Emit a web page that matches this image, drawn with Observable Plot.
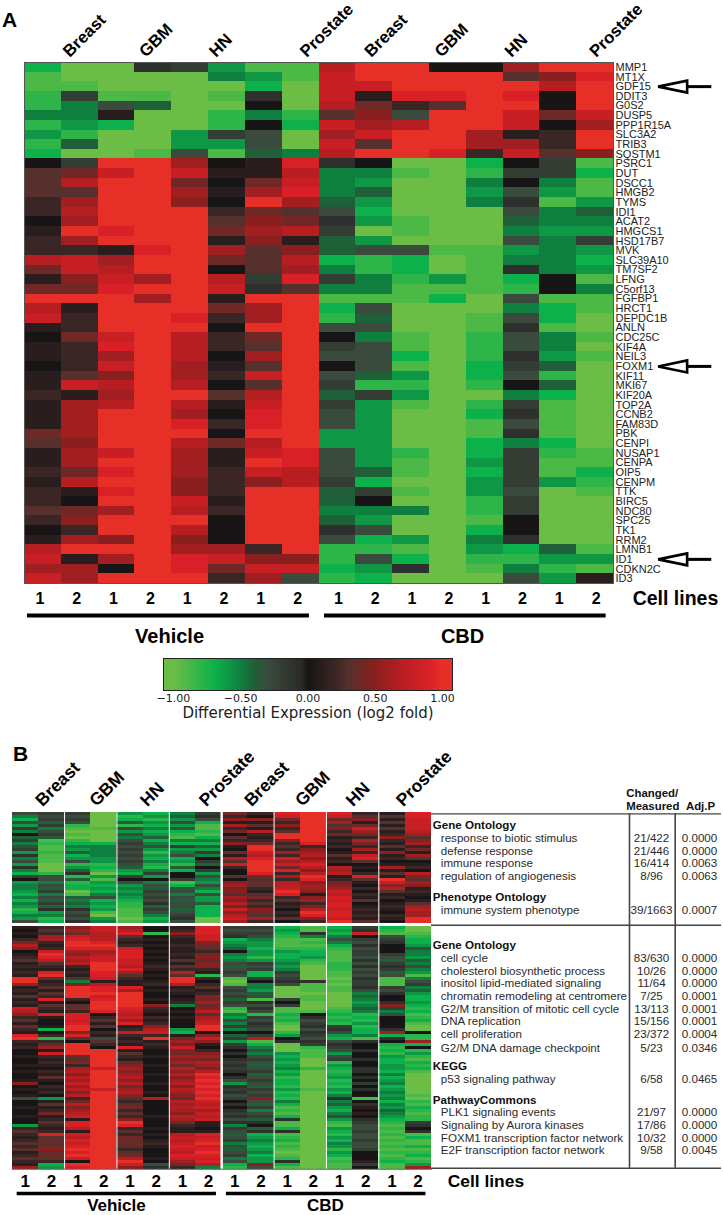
<!DOCTYPE html>
<html><head><meta charset="utf-8">
<script src="https://cdn.jsdelivr.net/npm/d3@7"></script>
<script src="https://cdn.jsdelivr.net/npm/@observablehq/plot@0.6"></script>
<style>
html,body{margin:0;padding:0;background:#fff}
#page{position:relative;width:723px;height:1215px;overflow:hidden;font-family:"Liberation Sans",Arial,sans-serif}
#page svg{position:absolute;overflow:visible;background:transparent}
.letter{position:absolute;font-weight:700;color:#000;line-height:1}
</style></head><body><div id="page"></div>
<script>
// ---------- data (values are log2 fold x 10) ----------
const genes=["MMP1","MT1X","GDF15","DDIT3","G0S2","DUSP5","PPP1R15A","SLC3A2","TRIB3","SQSTM1","PSRC1","DUT","DSCC1","HMGB2","TYMS","IDI1","ACAT2","HMGCS1","HSD17B7","MVK","SLC39A10","TM7SF2","LFNG","C5orf13","FGFBP1","HRCT1","DEPDC1B","ANLN","CDC25C","KIF4A","NEIL3","FOXM1","KIF11","MKI67","KIF20A","TOP2A","CCNB2","FAM83D","PBK","CENPI","NUSAP1","CENPA","OIP5","CENPM","TTK","BIRC5","NDC80","SPC25","TK1","RRM2","LMNB1","ID1","CDKN2C","ID3"];
const arrowGenes=["GDF15","FOXM1","ID1"];
const tissues=["Breast","GBM","HN","Prostate","Breast","GBM","HN","Prostate"];
const cellLines=["1","2","1","2","1","2","1","2","1","2","1","2","1","2","1","2"];
const treatments=["Vehicle","CBD"];
const legendTicks=[-1,-0.5,0,0.5,1];
const panelA=[
[-7,-10,-10,-1,-2,-6,-9,-9,7,10,10,0,0,6,10,10],
[-9,-10,-10,-10,-10,-5,-6,-9,8,10,10,10,10,3,5,9],
[-9,-9,-10,-10,-10,-10,-7,-10,8,8,10,10,10,10,7,10],
[-8,-2,-9,-9,-10,-9,-1,-10,8,1,9,9,10,9,0,10],
[-8,-5,-3,-4,-10,-10,0,-10,7,4,2,3,10,10,0,10],
[-5,-5,1,-10,-10,-8,-5,-8,3,5,-3,10,10,8,4,8],
[-8,-6,-7,-10,-10,-8,0,-7,8,6,7,10,10,8,0,6],
[-6,-8,-10,-10,-6,-2,-3,-10,6,8,10,10,6,1,2,10],
[-8,-4,-10,-10,-6,-6,-3,-10,8,3,10,10,6,6,2,10],
[-7,-10,-10,-9,-3,-9,-4,-5,7,10,10,9,2,8,3,5],
[0,-2,10,10,6,0,1,9,-1,0,-10,-10,-7,0,-2,-9],
[3,4,8,10,8,1,1,7,-5,-5,-9,-10,-8,-2,-2,-7],
[3,7,10,10,4,0,4,8,-5,-6,-10,-10,-5,0,-5,-9],
[3,3,10,10,6,1,6,9,-5,-4,-10,-10,-6,-3,-6,-9],
[2,6,10,10,5,0,10,6,-4,-6,-10,-10,-5,-1,-9,-6],
[2,7,10,10,10,2,4,3,-3,-7,-10,-10,-10,-3,-5,-4],
[0,6,10,10,10,3,5,4,-1,-6,-9,-10,-10,-4,-5,-5],
[1,10,9,10,10,4,6,7,-2,-10,-9,-10,-10,-5,-6,-6],
[2,6,10,10,10,1,5,1,-4,-6,-10,-10,-10,-3,-5,-2],
[2,2,1,9,10,6,3,5,-4,-3,-3,-9,-9,-6,-5,-6],
[7,8,6,10,10,4,3,7,-7,-8,-7,-10,-9,-5,-5,-7],
[4,8,7,10,10,0,3,6,-5,-8,-7,-10,-9,-1,-5,-6],
[1,5,8,6,10,7,-2,9,-2,-5,-8,-6,-9,-7,0,-9],
[4,4,9,10,10,8,-1,3,-5,-5,-9,-9,-9,-8,0,-5],
[10,10,10,6,10,1,10,10,-9,-9,-9,-7,-10,-3,-9,-9],
[7,1,10,10,10,4,6,10,-7,-3,-10,-10,-10,-5,-7,-9],
[8,2,10,10,9,2,6,10,-8,-4,-10,-10,-9,-3,-7,-10],
[1,2,10,10,10,0,10,10,-3,-3,-10,-10,-9,-1,-9,-10],
[0,4,8,10,7,2,4,10,0,-5,-9,-10,-8,-3,-5,-9],
[1,2,9,10,7,2,3,10,-2,-3,-9,-10,-8,-3,-5,-10],
[1,2,6,10,7,0,6,10,-3,-3,-7,-10,-8,-1,-6,-9],
[0,2,8,10,6,1,3,10,0,-3,-9,-10,-7,-2,-4,-10],
[1,3,5,10,6,2,8,10,-3,-4,-6,-10,-7,-3,-8,-10],
[1,8,7,10,7,0,3,10,-2,-8,-8,-10,-8,0,-4,-10],
[2,1,6,10,10,3,7,10,-4,-2,-6,-10,-10,-5,-7,-10],
[1,6,7,10,7,1,8,10,-2,-6,-9,-10,-8,-2,-9,-10],
[1,6,10,10,6,0,9,10,-3,-6,-10,-10,-7,-1,-9,-10],
[1,6,10,10,9,2,9,10,-3,-6,-10,-10,-9,-3,-9,-10],
[4,6,10,10,10,0,10,10,-6,-6,-10,-10,-9,-1,-9,-10],
[3,5,10,10,7,4,7,10,-6,-6,-10,-10,-7,-5,-7,-10],
[1,6,8,10,6,1,8,9,-3,-6,-8,-10,-7,-2,-8,-9],
[1,6,10,10,6,1,10,9,-3,-6,-9,-10,-6,-2,-9,-9],
[2,4,9,10,6,2,8,7,-3,-4,-9,-10,-7,-2,-9,-7],
[1,7,10,10,5,2,5,7,-2,-7,-10,-10,-6,-2,-6,-8],
[2,1,9,10,5,2,10,10,-4,-2,-9,-10,-6,-3,-10,-9],
[2,0,10,10,8,1,10,10,-4,0,-10,-10,-8,-2,-10,-10],
[3,4,6,10,7,2,10,10,-5,-5,-5,-10,-8,-2,-10,-10],
[2,5,10,10,10,0,10,10,-4,-6,-10,-10,-9,0,-10,-10],
[0,2,10,10,7,0,10,10,-1,-3,-10,-10,-7,0,-10,-10],
[1,6,5,10,5,0,10,10,-3,-7,-6,-10,-5,-1,-10,-10],
[7,10,10,10,6,6,2,10,-8,-8,-9,-10,-6,-7,-4,-9],
[8,1,6,10,9,8,5,5,-8,-3,-7,-10,-8,-8,-6,-6],
[6,6,0,10,9,4,8,8,-7,-6,-1,-10,-9,-5,-8,-9],
[8,6,10,10,10,2,6,-3,-8,-7,-10,-10,-10,-3,-6,1]];
const panelBTop=[
[-3,-2,-2,-10,-6,-7,-5,-2,4,2,9,10,9,2,1,9],
[-5,-3,-3,-10,-8,-6,-4,-1,2,0,8,10,8,3,3,9],
[-7,-2,-2,-10,-7,-8,-6,-3,5,5,4,10,4,5,1,8],
[-3,-4,-3,-10,-4,-6,-3,-7,1,1,2,10,6,1,3,8],
[-6,-2,-8,-10,-8,-7,-6,-9,6,3,5,10,3,4,1,8],
[-2,-5,-9,-9,-3,-5,-4,-9,2,1,2,10,5,8,3,8],
[-5,-3,-10,-10,-6,-7,-7,-8,4,7,3,10,2,6,1,7],
[0,-2,-9,-10,-3,-6,-8,-9,0,2,10,10,4,4,2,6],
[-4,-4,-10,-10,-5,-4,-9,-7,3,1,10,10,1,2,5,3],
[-2,-9,-8,-10,-3,-7,-5,-5,2,2,5,10,2,7,2,5],
[-5,-8,-7,-7,-2,-5,-7,-7,5,4,2,9,1,4,1,6],
[-3,-9,-5,-5,-3,-3,-2,-4,1,10,3,2,2,2,3,2],
[-2,-9,-6,-5,-2,-6,-6,-6,0,10,2,5,0,6,1,4],
[-6,-8,-4,-5,-3,-8,-5,-2,4,8,6,6,1,2,5,1],
[-1,-9,-7,-5,-2,-6,-3,-5,1,7,2,7,3,8,1,6],
[-5,-9,-6,-6,-3,-7,-7,0,7,9,8,5,1,9,2,3],
[-3,-9,-3,-6,-2,-5,-6,-2,3,10,6,7,2,3,0,0],
[-6,-10,-8,-8,-3,-7,-8,-4,8,10,8,9,0,0,1,1],
[-1,-10,-6,-7,-4,-8,-4,0,2,10,4,7,7,1,6,2],
[-5,-10,-4,-8,-6,-5,-7,-2,0,10,9,5,6,0,1,0],
[-7,-8,-1,-10,-7,-2,0,-6,0,9,2,7,7,2,3,7],
[-2,-3,-8,-6,-2,-6,0,-3,3,4,6,10,1,9,1,5],
[0,-3,-4,-9,0,0,-2,-5,0,3,2,9,2,3,10,3],
[-6,-5,-8,-6,-3,-5,-9,-6,5,4,7,5,4,1,8,6],
[-5,-3,-7,-7,-6,-3,-7,-3,6,3,7,6,5,0,5,5],
[-5,-4,-7,-6,-5,-4,-4,-5,4,2,8,6,6,2,7,1],
[-6,-2,-10,-7,-6,-2,-3,-7,5,1,10,5,8,0,3,2],
[-7,-5,-9,-5,-5,-3,-5,-3,3,3,9,1,7,2,1,1],
[-5,-3,-4,-3,-6,-2,-3,-6,6,4,2,5,9,1,2,0],
[-7,-4,-5,-7,-7,-3,-4,-6,5,2,3,6,8,3,0,1],
[-5,-2,-4,-6,-8,-1,-3,-4,7,3,1,2,9,0,1,3],
[-6,-4,-5,-7,-8,-4,-3,-7,4,2,2,4,9,1,2,6],
[-8,-1,-1,-6,-9,-2,-4,-7,8,5,0,7,8,2,1,7],
[-7,-6,-3,-9,-9,-3,-3,-7,5,4,2,10,9,1,0,6],
[-5,-5,-2,-10,-9,-5,-2,-7,7,3,1,9,9,2,2,6],
[-6,-8,-3,-6,-10,-7,-1,-10,8,6,3,5,8,1,1,10],
[-3,-7,-1,-5,-9,-6,-3,-10,6,2,0,2,10,3,0,10]];
const panelBBottom=[
[1,2,5,8,6,0,1,9,-2,-2,-7,-9,-7,-2,-7,-10],
[0,3,6,8,7,0,2,9,-3,-3,-6,-9,-6,-1,-8,-10],
[1,2,4,7,9,-8,5,9,-2,-2,-7,-1,-7,8,-9,-9],
[0,6,8,7,3,0,2,8,-1,-3,-8,-5,-5,0,-3,-8],
[2,6,9,7,2,1,1,8,-7,-5,-9,-9,-3,-2,-2,-7],
[4,2,10,9,1,0,1,5,-6,-6,-9,-8,-5,-3,-1,-7],
[7,1,10,10,2,1,2,4,-5,-6,-9,-9,-7,-1,0,-6],
[5,2,9,9,8,0,1,3,-4,-7,-8,-8,-8,-3,0,-3],
[0,8,6,6,9,1,1,2,0,-6,-6,-7,-9,-2,0,-5],
[1,10,5,7,9,0,2,4,-5,-6,-7,-7,-9,-2,-2,-5],
[2,9,7,8,9,1,1,5,-6,-8,-7,-6,-9,-3,-3,-6],
[3,7,6,8,8,0,3,3,-5,-6,-6,-8,-9,-1,-4,-4],
[1,3,7,10,8,1,1,5,-3,-2,-5,-9,-8,-3,-2,-5],
[2,2,2,10,7,2,3,5,-4,-3,-6,-10,-8,-1,-1,-3],
[1,1,1,10,9,1,2,2,-3,-2,-5,-10,-8,-3,-2,-5],
[2,9,2,9,6,0,7,1,-2,-7,-2,-10,-9,-2,-4,-6],
[1,10,1,9,3,1,3,-8,-3,-7,-3,-10,-9,-3,-3,-9],
[10,3,3,8,2,0,10,2,-9,-2,-2,-10,-10,-1,-9,-5],
[10,1,-5,1,1,1,10,0,-10,0,-1,-1,-9,-2,-9,-3],
[6,2,4,7,1,2,7,2,-9,-5,-3,-9,-10,-2,-9,-2],
[1,3,10,9,9,0,1,3,-3,-5,-10,-9,-9,-1,-2,-5],
[2,1,10,9,6,1,2,1,-2,-6,-10,-9,-9,-3,-3,-4],
[1,3,10,10,10,0,1,2,-3,-4,-10,-10,-10,-5,-1,-6],
[3,2,10,8,10,0,0,5,-2,-3,-10,-9,-10,-4,0,-7],
[1,9,2,9,10,1,1,4,-4,-9,-2,-9,-10,-5,0,-7],
[2,1,0,10,10,0,2,6,-2,-1,0,-10,-10,-6,-1,-6],
[1,3,3,10,10,5,-5,4,-3,-3,-2,-10,-10,-5,5,-7],
[8,2,4,10,9,2,0,5,-8,-1,-9,-10,-9,-4,-2,-8],
[7,1,2,9,8,1,1,7,-9,-3,-9,-9,-8,-5,-5,-7],
[5,9,9,0,7,0,0,3,-5,-8,-7,0,-7,-8,-3,-9],
[2,1,9,2,8,2,1,6,-6,-2,-8,-1,-8,-7,0,-8],
[3,0,8,3,6,1,0,7,-3,-3,-7,-3,-7,-8,0,-7],
[1,0,9,1,9,2,0,8,-5,-1,-9,-2,-8,-6,0,-9],
[4,1,10,3,1,5,0,10,-2,-2,-10,-1,-2,-8,0,-10],
[2,-7,10,0,2,7,-6,10,-5,-3,-10,-3,-1,-7,-1,-10],
[1,0,5,2,8,8,-7,0,0,0,-8,-1,-3,-7,6,0],
[9,2,9,1,2,2,1,5,-4,-2,-6,-2,-6,-5,-7,-8],
[10,-8,3,-3,1,10,4,8,-2,7,0,-3,-7,-9,-1,-8],
[2,2,0,3,2,1,6,5,-6,-9,-1,-1,-3,-1,0,6],
[1,3,10,2,1,2,4,1,-2,-7,-10,-2,-1,0,-7,-7],
[2,6,10,0,9,1,8,0,-1,-5,-10,-8,-2,0,-8,0],
[0,1,10,10,1,0,5,2,0,-3,-10,-9,-3,-1,-7,-8],
[0,8,10,10,3,0,4,5,-1,-5,-6,-9,-6,0,-8,-6],
[1,2,4,10,2,1,6,6,0,-3,-7,-9,-3,0,-6,-8],
[0,1,3,10,1,0,5,4,-1,-2,-6,-10,-2,-1,-7,-9],
[0,2,5,10,3,0,6,7,-2,-3,-7,-10,-8,0,-7,-7],
[1,1,2,10,5,1,4,6,-1,-4,-6,-10,-6,0,-6,-8],
[0,0,6,8,6,0,7,4,-2,-3,-5,-8,-7,-1,-6,-7],
[1,2,7,10,5,0,5,7,-1,-2,-7,-10,-8,-1,-7,-9],
[0,1,5,10,6,1,7,10,0,-4,-6,-10,-7,0,-5,-10],
[0,3,7,10,7,0,5,9,-1,-3,-8,-10,-6,-1,-7,-10],
[1,1,6,10,5,0,6,10,-3,-2,-7,-10,-8,0,-6,-10],
[5,0,8,10,7,1,7,9,-6,-3,-7,-10,-7,-2,-5,-10],
[0,2,6,10,4,0,5,10,-1,-4,-8,-10,-8,0,-7,-10],
[1,1,7,8,6,0,7,9,-2,-2,-6,-9,-6,-1,-6,-10],
[0,2,5,10,7,1,6,10,-1,-3,-8,-10,-7,0,-5,-10],
[1,0,7,10,5,0,5,9,-3,-2,-7,-10,-5,0,-6,-9],
[-3,-6,2,10,3,7,3,10,-2,5,-8,-10,-1,-9,-5,-10],
[0,1,4,10,2,0,7,8,0,-3,-5,-10,-5,0,-7,-8],
[0,3,7,10,3,0,6,7,-1,-4,-7,-10,-4,-1,-5,-9],
[1,1,5,10,4,0,7,8,0,-2,-9,-10,-6,1,-6,-7],
[0,2,6,10,2,0,6,6,-1,-5,-8,-10,-7,0,-4,-8],
[0,4,7,10,3,0,5,8,-2,-3,-9,-10,-5,1,-5,-9],
[1,1,8,10,2,1,7,7,-1,-2,-7,-10,-3,0,-6,-8],
[0,2,1,10,5,0,6,8,-3,-4,-1,-10,-6,-1,-7,-8],
[0,3,9,10,10,0,4,1,-1,-1,-9,-10,-8,-2,-8,-2],
[-6,2,9,10,9,0,2,1,-5,0,-9,-10,-9,-3,-9,-1],
[2,1,7,10,2,1,1,0,-2,-4,-7,-10,-6,-3,-8,0],
[3,2,1,10,3,0,1,1,-3,-1,-1,-10,-7,-2,-9,-1],
[2,9,8,10,2,1,7,9,-4,-7,-9,-10,-8,-3,-8,-9],
[1,3,7,10,4,0,8,8,-3,-6,-8,-10,-6,-3,-9,-7],
[2,4,9,10,3,1,7,9,-2,-5,-7,-10,-7,-2,-8,-9],
[3,3,8,10,4,2,8,10,-5,-6,-9,-10,-5,-3,-9,-9],
[2,4,9,10,3,1,9,8,-3,-7,-8,-10,-6,-3,-8,-7],
[3,5,10,10,2,0,8,9,-4,-6,-9,-10,-8,-2,-9,-9],
[1,3,9,10,3,0,7,10,-3,-5,-10,-10,-6,0,-8,-8],
[2,4,10,10,4,0,9,9,-2,-7,-9,-10,-7,0,-9,-7],
[3,3,8,10,7,1,8,8,-5,-6,-8,-10,-9,0,-8,-9],
[2,2,0,10,10,0,6,9,-3,-6,-1,-10,-8,1,-7,-8],
[1,-7,10,10,8,-3,4,7,-7,5,-7,-10,-9,-2,-9,-6],
[6,-6,9,10,5,-1,2,-5,-8,-3,-9,-10,-9,0,-9,6]];
// enrichment table: row is the line number in the table
const enrichmentHeads=[["Gene Ontology",0],["Phenotype Ontology",5.67],["Gene Ontology",9.5],["KEGG",19.05],["PathwayCommons",21.7]];
const enrichmentTerms=[
["response to biotic stimulus","21/422","0.0000",1],["defense response","21/446","0.0000",2],["immune response","16/414","0.0063",3],["regulation of angiogenesis","8/96","0.0063",4],
["immune system phenotype","39/1663","0.0007",6.67],
["cell cycle","83/630","0.0000",10.5],["cholesterol biosynthetic process","10/26","0.0000",11.5],["inositol lipid-mediated signaling","11/64","0.0000",12.5],["chromatin remodeling at centromere","7/25","0.0001",13.5],["G2/M transition of mitotic cell cycle","13/113","0.0001",14.5],["DNA replication","15/156","0.0001",15.5],["cell proliferation","23/372","0.0004",16.5],["G2/M DNA damage checkpoint","5/23","0.0346",17.6],
["p53 signaling pathway","6/58","0.0465",20.05],
["PLK1 signaling events","21/97","0.0000",22.7],["Signaling by Aurora kinases","17/86","0.0000",23.7],["FOXM1 transcription factor network","10/32","0.0000",24.7],["E2F transcription factor network","9/58","0.0045",25.7]];

// ---------- scale and helpers ----------
const colorOpts={type:"linear",clamp:true,
  domain:[-1,-0.7,-0.5,-0.4,-0.3,-0.05,0,0.2,0.3,0.5,0.7,0.9,1],
  range:["#6cbd45","#0db14b","#0f7f3f","#1f6038","#3a4a3c","#2a2a28","#171515","#3a2624","#55302d","#8a1f1f","#b71e22","#d92027","#e63027"]};
const style={fontFamily:'"Liberation Sans",Arial,sans-serif',background:"transparent",color:"#000"};
const page=document.getElementById("page");
const place=(svg,left,top)=>{svg.style.left=left+"px";svg.style.top=top+"px";page.appendChild(svg);};
const letter=(t,left,top,size)=>{const d=document.createElement("div");d.className="letter";d.textContent=t;d.style.cssText=`left:${left}px;top:${top}px;font-size:${size}px`;page.appendChild(d);};
const cellsOf=(rows,keys)=>rows.flatMap((r,i)=>r.map((v,col)=>({row:keys?keys[i]:i,col,v})));
const heatBars=(rows,keys)=>Plot.barX(cellsOf(rows,keys),{x1:"col",x2:d=>d.col+1,y:"row",fill:d=>d.v/10,shapeRendering:"crispEdges"});
const cols=cellLines.map((label,col)=>({label,col,mid:col+0.5}));

// ---------- Panel A ----------
const headerAtA=[1.0,3.07,4.97,7.44,9.19,11.1,13.0,15.3];
const leftTriangle={draw(c){c.moveTo(-15,0);c.lineTo(14,-6);c.lineTo(14,6);c.closePath();}};
place(Plot.plot({width:723,height:583,marginLeft:24,marginRight:110,marginTop:62,marginBottom:0,style,
  color:colorOpts,x:{domain:[0,16],axis:null},y:{domain:genes,padding:0,round:false},
  marks:[
    heatBars(panelA,genes),
    Plot.frame({stroke:"#555",strokeWidth:1}),
    Plot.axisY({anchor:"right",tickSize:0,tickPadding:2,label:null,fontSize:11,fill:"#222"}),
    Plot.text(tissues,{x:(d,i)=>headerAtA[i],text:d=>d,frameAnchor:"top",dy:-13,rotate:-45,textAnchor:"start",fontSize:16.8,fontWeight:"bold"}),
    Plot.ruleY(arrowGenes,{y:d=>d,x1:()=>17.99,x2:()=>18.67,stroke:"#000",strokeWidth:3}),
    Plot.dot(arrowGenes,{y:d=>d,x:()=>17.62,symbol:leftTriangle,stroke:"#000",strokeWidth:2.6,fill:"#fff"})
  ]}),0,0);

// annotation strip under panel A
const stripDomain=["cells","bar","treatment"];
const vehicleA={name:treatments[0],from:0.08,to:7.74,mid:3.94}, cbdA={name:treatments[1],from:8.15,to:15.8,mid:11.9};
place(Plot.plot({width:723,height:60,marginLeft:24,marginRight:110,marginTop:7,marginBottom:14,style,
  x:{domain:[0,16],axis:null},y:{type:"point",domain:stripDomain,padding:0,axis:null},
  marks:[
    Plot.text(cols.slice(0,8),{x:"mid",y:()=>"cells",text:"label",dx:-3,fontSize:16,fontWeight:"bold"}),
    Plot.text(cols.slice(8),{x:"mid",y:()=>"cells",text:"label",dx:1,fontSize:16,fontWeight:"bold"}),
    Plot.text(["Cell lines"],{x:()=>16.52,y:()=>"cells",text:d=>d,textAnchor:"start",fontSize:19.5,fontWeight:"bold"}),
    Plot.ruleY([vehicleA,cbdA],{y:()=>"bar",x1:"from",x2:"to",stroke:"#000",strokeWidth:4,dy:-2}),
    Plot.text([vehicleA,cbdA],{x:"mid",y:()=>"treatment",text:"name",fontSize:20,fontWeight:"bold"})
  ]}),0,590);

// colour legend
const ramp=d3.range(-1.074,1.074,0.01);
place(Plot.plot({width:423,height:75,marginLeft:63,marginRight:71,marginTop:8,marginBottom:35,
  style:{...style,fontFamily:'"DejaVu Sans",sans-serif',color:"#222"},color:colorOpts,
  x:{domain:[-1.074,1.074],axis:null},
  marks:[
    Plot.axisX({ticks:legendTicks,tickFormat:d3.format(".2f"),tickSize:0,tickPadding:4,fontSize:11,label:null}),
    Plot.text(["Differential Expression (log2 fold)"],{text:d=>d,frameAnchor:"bottom",dy:27,fontSize:15}),
    Plot.barX(ramp,{x1:d=>d,x2:d=>d+0.011,fill:d=>d,shapeRendering:"crispEdges"}),
    Plot.frame({stroke:"#222",strokeWidth:1})
  ]}),100,650);

letter("A",2,9,21);
letter("B",13,743,21);

// ---------- Panel B ----------
const pairEdges=[2,4,6,10,12,14];
const blockMarks=(rows)=>[
  heatBars(rows),
  Plot.ruleX(pairEdges,{stroke:"#fff",strokeWidth:1}),
  Plot.ruleX([8],{stroke:"#fff",strokeWidth:2.4})
];
const headerAtB=[0.82,2.88,4.82,7.07,8.8,10.74,12.68,14.6];
place(Plot.plot({width:431,height:923.3-740,marginLeft:11.7,marginRight:0.3,marginTop:72,marginBottom:0,style,
  color:colorOpts,x:{domain:[0,16],axis:null},y:{domain:d3.range(panelBTop.length),padding:0,round:false,axis:null},
  marks:[...blockMarks(panelBTop),
    Plot.text(tissues,{x:(d,i)=>headerAtB[i],text:d=>d,frameAnchor:"top",dy:-14,rotate:-45,textAnchor:"start",fontSize:17.5,fontWeight:"bold"})
  ]}),0,740);
place(Plot.plot({width:431,height:243.3,marginLeft:11.7,marginRight:0.3,marginTop:0,marginBottom:0.5,style,
  color:colorOpts,x:{domain:[0,16],axis:null},y:{domain:d3.range(panelBBottom.length),padding:0,round:false,axis:null},
  marks:[...blockMarks(panelBBottom),Plot.frame({anchor:"bottom",stroke:"#666"})]}),0,925.7);

// annotation strip under panel B
const vehicleB={name:treatments[0],from:0.19,to:7.8,mid:3.98}, cbdB={name:treatments[1],from:8.18,to:15.8,mid:11.96};
place(Plot.plot({width:723,height:42,marginLeft:11.7,marginRight:292.3,marginTop:7,marginBottom:10,style,
  x:{domain:[0,16],axis:null},y:{type:"point",domain:stripDomain,padding:0,axis:null},
  marks:[
    Plot.text(cols,{x:"mid",y:()=>"cells",text:"label",fontSize:17,fontWeight:"bold"}),
    Plot.text(["Cell lines"],{x:()=>16.63,y:()=>"cells",text:d=>d,textAnchor:"start",fontSize:17.4,fontWeight:"bold"}),
    Plot.ruleY([vehicleB,cbdB],{y:()=>"bar",x1:"from",x2:"to",stroke:"#000",strokeWidth:3.5}),
    Plot.text([vehicleB,cbdB],{x:"mid",y:()=>"treatment",text:"name",fontSize:17,fontWeight:"bold"})
  ]}),0,1173);

// enrichment table
const tableFont=11.6, ink="#2a2a2a";
place(Plot.plot({width:292,height:400,margin:0,style,
  x:{domain:[0,292],axis:null},y:{domain:[-40/12.65,360/12.65],reverse:true,axis:null},
  marks:[
    Plot.ruleY([-0.92,7.88,27.09],{x1:()=>0,x2:()=>290,stroke:"#444",strokeWidth:1.4}),
    Plot.ruleX([198,243.7],{y1:()=>-0.92,y2:()=>27.09,stroke:"#444",strokeWidth:1.6}),
    Plot.text(enrichmentHeads,{x:()=>1.3,y:d=>d[1],text:d=>d[0],textAnchor:"start",fontSize:tableFont,fontWeight:"bold",fill:"#111"}),
    Plot.text(enrichmentTerms,{x:()=>9.3,y:d=>d[3],text:d=>d[0],textAnchor:"start",fontSize:tableFont,fill:ink}),
    Plot.text(enrichmentTerms,{x:()=>220,y:d=>d[3],text:d=>d[1],fontSize:tableFont,fill:ink}),
    Plot.text(enrichmentTerms,{x:()=>268,y:d=>d[3],text:d=>d[2],fontSize:tableFont,fill:ink}),
    Plot.text(["Changed/"],{x:()=>194.7,y:()=>-2.56,text:d=>d,textAnchor:"start",fontSize:11.4,fontWeight:"bold",fill:"#111"}),
    Plot.text(["Measured"],{x:()=>194.7,y:()=>-1.5,text:d=>d,textAnchor:"start",fontSize:11.4,fontWeight:"bold",fill:"#111"}),
    Plot.text(["Adj.P"],{x:()=>269,y:()=>-1.55,text:d=>d,fontSize:11.4,fontWeight:"bold",fill:"#111"})
  ]}),431,785);
</script></body></html>
